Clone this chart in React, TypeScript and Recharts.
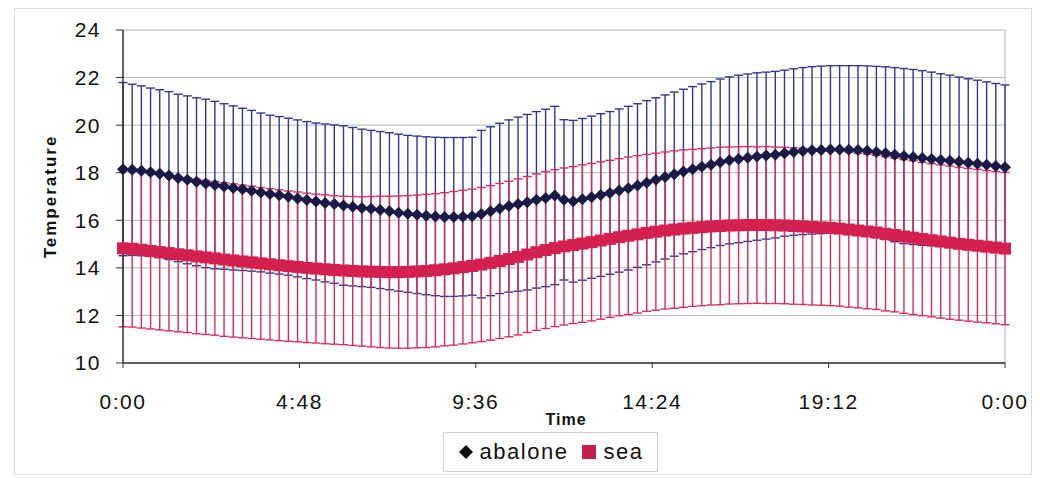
import { CartesianGrid, ErrorBar, Label, Line, LineChart, XAxis, YAxis } from "recharts";

// one reading every 15 minutes, 0:00 -> 0:00 next day
const ABALONE = [
  18.15, 18.12, 18.08, 18.02, 17.96, 17.88, 17.78, 17.7,
  17.62, 17.55, 17.48, 17.42, 17.36, 17.3, 17.24, 17.17,
  17.1, 17.05, 16.99, 16.92, 16.85, 16.79, 16.73, 16.68,
  16.62, 16.57, 16.52, 16.48, 16.43, 16.38, 16.32, 16.27,
  16.23, 16.19, 16.16, 16.14, 16.14, 16.15, 16.17, 16.26,
  16.38, 16.5, 16.6, 16.68, 16.76, 16.86, 16.94, 17.04,
  16.86, 16.8, 16.88, 16.97, 17.06, 17.15, 17.25, 17.35,
  17.46, 17.58, 17.7, 17.82, 17.94, 18.05, 18.15, 18.25,
  18.34, 18.44, 18.52, 18.58, 18.63, 18.68, 18.72, 18.76,
  18.82, 18.87, 18.91, 18.94, 18.96, 18.98, 18.98, 18.97,
  18.95, 18.92, 18.87, 18.82, 18.76, 18.7, 18.66, 18.62,
  18.58, 18.53, 18.5, 18.46, 18.42, 18.38, 18.33, 18.28,
  18.23,
];

const ABALONE_SD = [
  3.64, 3.6, 3.57, 3.54, 3.53, 3.53, 3.52, 3.53,
  3.53, 3.54, 3.52, 3.48, 3.45, 3.41, 3.38, 3.34,
  3.32, 3.31, 3.3, 3.3, 3.3, 3.3, 3.32, 3.33,
  3.35, 3.33, 3.31, 3.3, 3.3, 3.3, 3.3, 3.3,
  3.31, 3.32, 3.33, 3.34, 3.34, 3.33, 3.32, 3.52,
  3.55, 3.58, 3.62, 3.66, 3.69, 3.71, 3.73, 3.75,
  3.37, 3.4, 3.4, 3.41, 3.42, 3.42, 3.43, 3.44,
  3.44, 3.45, 3.45, 3.45, 3.45, 3.46, 3.47, 3.48,
  3.49, 3.5, 3.51, 3.52, 3.52, 3.52, 3.51, 3.5,
  3.49, 3.5, 3.51, 3.52, 3.52, 3.52, 3.52, 3.53,
  3.55, 3.57, 3.6, 3.63, 3.66, 3.68, 3.68, 3.67,
  3.65, 3.63, 3.6, 3.56, 3.53, 3.51, 3.49, 3.47,
  3.46,
];

const SEA = [
  14.82, 14.8, 14.76, 14.71, 14.66, 14.62, 14.57, 14.53,
  14.48, 14.44, 14.4, 14.35, 14.31, 14.27, 14.23, 14.19,
  14.15, 14.11, 14.07, 14.04, 14.0, 13.97, 13.94, 13.91,
  13.89, 13.87, 13.85, 13.84, 13.83, 13.82, 13.82, 13.83,
  13.85, 13.87, 13.9, 13.94, 13.98, 14.03, 14.08, 14.14,
  14.21, 14.29, 14.37, 14.46, 14.56, 14.66, 14.75, 14.83,
  14.9, 14.96, 15.02, 15.08, 15.15, 15.22, 15.29, 15.35,
  15.41, 15.47, 15.52, 15.57, 15.61, 15.65, 15.68, 15.71,
  15.74, 15.76, 15.78, 15.79, 15.8, 15.8, 15.8, 15.79,
  15.78, 15.76, 15.74, 15.72, 15.7, 15.68, 15.65, 15.61,
  15.57, 15.53, 15.49, 15.43, 15.38, 15.32, 15.27, 15.21,
  15.16, 15.11, 15.06, 15.01, 14.97, 14.93, 14.89, 14.85,
  14.81,
];

const SEA_SD = [
  3.3, 3.29, 3.29, 3.28, 3.27, 3.27, 3.26, 3.25,
  3.25, 3.24, 3.23, 3.23, 3.22, 3.21, 3.2, 3.19,
  3.18, 3.17, 3.16, 3.15, 3.14, 3.13, 3.13, 3.12,
  3.12, 3.13, 3.14, 3.16, 3.18, 3.19, 3.2, 3.21,
  3.21, 3.22, 3.22, 3.22, 3.23, 3.23, 3.23, 3.24,
  3.25, 3.26, 3.27, 3.28, 3.28, 3.29, 3.3, 3.3,
  3.3, 3.3, 3.31, 3.31, 3.31, 3.3, 3.3, 3.31,
  3.31, 3.3, 3.3, 3.3, 3.31, 3.31, 3.3, 3.3,
  3.3, 3.31, 3.3, 3.3, 3.3, 3.29, 3.3, 3.29,
  3.29, 3.29, 3.28, 3.28, 3.27, 3.27, 3.26, 3.26,
  3.25, 3.25, 3.24, 3.24, 3.23, 3.23, 3.23, 3.22,
  3.22, 3.22, 3.22, 3.21, 3.21, 3.21, 3.2, 3.2,
  3.2,
];

const X_TICKS = [0, 4.8, 9.6, 14.4, 19.2, 24];
const X_TICK_LABELS = ["0:00", "4:48", "9:36", "14:24", "19:12", "0:00"];
const Y_TICKS = [10, 12, 14, 16, 18, 20, 22, 24];

const FONT = '"Liberation Sans", Arial, sans-serif';
const AB_DARK = "#1a1a48";
const AB_ERR = "#32368f";
const SEA_COL = "#d3204f";
const SEA_ERR = "#d82c5c";

const data = ABALONE.map((v, i) => ({
  t: (i * 15) / 60,
  abalone: v,
  abaloneSd: ABALONE_SD[i],
  sea: SEA[i],
  seaSd: SEA_SD[i],
}));

const TICK = { fill: "#111", fontSize: 21, fontFamily: FONT, letterSpacing: 1.5 };

function diamond(p: any) {
  const { cx, cy, index } = p;
  if (cx == null || cy == null) return <g key={`ab-${index}`} />;
  const r = 6;
  return (
    <path
      key={`ab-${index}`}
      d={`M${cx},${cy - r}L${cx + r},${cy}L${cx},${cy + r}L${cx - r},${cy}Z`}
      fill={AB_DARK}
    />
  );
}

function square(p: any) {
  const { cx, cy, index } = p;
  if (cx == null || cy == null) return <g key={`sea-${index}`} />;
  const r = 6;
  return <rect key={`sea-${index}`} x={cx - r} y={cy - r} width={r * 2} height={r * 2} fill={SEA_COL} />;
}

function YTitle(props: any) {
  const vb = props.viewBox || {};
  const cy = vb.y + vb.height / 2;
  return (
    <text
      x={50}
      y={cy}
      transform={`rotate(-90 50 ${cy})`}
      textAnchor="middle"
      dominantBaseline="central"
      fontFamily={FONT}
      fontWeight="bold"
      fontSize={17}
      letterSpacing={2}
      fill="#111"
    >
      Temperature
    </text>
  );
}

function XTitle(props: any) {
  const vb = props.viewBox || {};
  const cx = vb.x + vb.width / 2;
  return (
    <text x={cx + 2} y={425} textAnchor="middle" fontFamily={FONT} fontWeight="bold" fontSize={16} letterSpacing={1} fill="#111">
      Time
    </text>
  );
}

export default function App() {
  return (
    <div style={{ position: "absolute", left: 0, top: 0, width: 1040, height: 478, background: "#fff" }}>
      <div
        style={{
          position: "absolute",
          left: 14,
          top: 8,
          width: 1018,
          height: 467,
          border: "1px solid #dcdcdc",
          boxSizing: "border-box",
        }}
      />
      <LineChart width={1040} height={478} data={data} margin={{ top: 30, right: 35, left: 0, bottom: 0 }}>
        <CartesianGrid
          stroke="#b4b4b4"
          verticalCoordinatesGenerator={({ offset }: any) => [offset.left + offset.width]}
        />
        <XAxis
          dataKey="t"
          type="number"
          domain={[0, 24]}
          ticks={X_TICKS}
          interval={0}
          tickFormatter={(_v: number, i: number) => X_TICK_LABELS[i]}
          tick={TICK}
          tickSize={5}
          tickMargin={26}
          height={115}
          axisLine={{ stroke: "#333", strokeWidth: 1.5 }}
          tickLine={{ stroke: "#333" }}
        >
          <Label content={<XTitle />} />
        </XAxis>
        <YAxis
          type="number"
          domain={[10, 24]}
          ticks={Y_TICKS}
          interval={0}
          tick={TICK}
          tickSize={7}
          tickMargin={15}
          width={123}
          axisLine={{ stroke: "#333", strokeWidth: 1.5 }}
          tickLine={{ stroke: "#333" }}
        >
          <Label content={<YTitle />} />
        </YAxis>

        {/* error bars first so the series lines sit on top */}
        <Line dataKey="abalone" stroke="none" dot={false} activeDot={false} legendType="none" isAnimationActive={false}>
          <ErrorBar dataKey="abaloneSd" direction="y" width={4.5} stroke={AB_ERR} strokeWidth={1.4} />
        </Line>
        <Line dataKey="sea" stroke="none" dot={false} activeDot={false} legendType="none" isAnimationActive={false}>
          <ErrorBar dataKey="seaSd" direction="y" width={4.5} stroke={SEA_ERR} strokeWidth={1.4} />
        </Line>

        <Line dataKey="sea" stroke={SEA_COL} strokeWidth={4} dot={square} activeDot={false} isAnimationActive={false} />
        <Line dataKey="abalone" stroke={AB_DARK} strokeWidth={3} dot={diamond} activeDot={false} isAnimationActive={false} />
      </LineChart>

      <div
        style={{
          position: "absolute",
          left: 443,
          top: 432,
          width: 215,
          height: 40,
          border: "1px solid #cfcfcf",
          boxSizing: "border-box",
          display: "flex",
          alignItems: "center",
          justifyContent: "center",
          fontFamily: FONT,
          fontSize: 22,
          letterSpacing: 1.5,
          color: "#111",
          background: "#fff",
        }}
      >
        <svg width={16} height={16} style={{ marginRight: 6 }}>
          <path d="M8,1L15,8L8,15L1,8Z" fill="#111" />
        </svg>
        <span>abalone</span>
        <svg width={14} height={14} style={{ marginLeft: 14, marginRight: 7 }}>
          <rect x={0} y={0} width={14} height={14} fill="#c8204e" />
        </svg>
        <span>sea</span>
      </div>
    </div>
  );
}
